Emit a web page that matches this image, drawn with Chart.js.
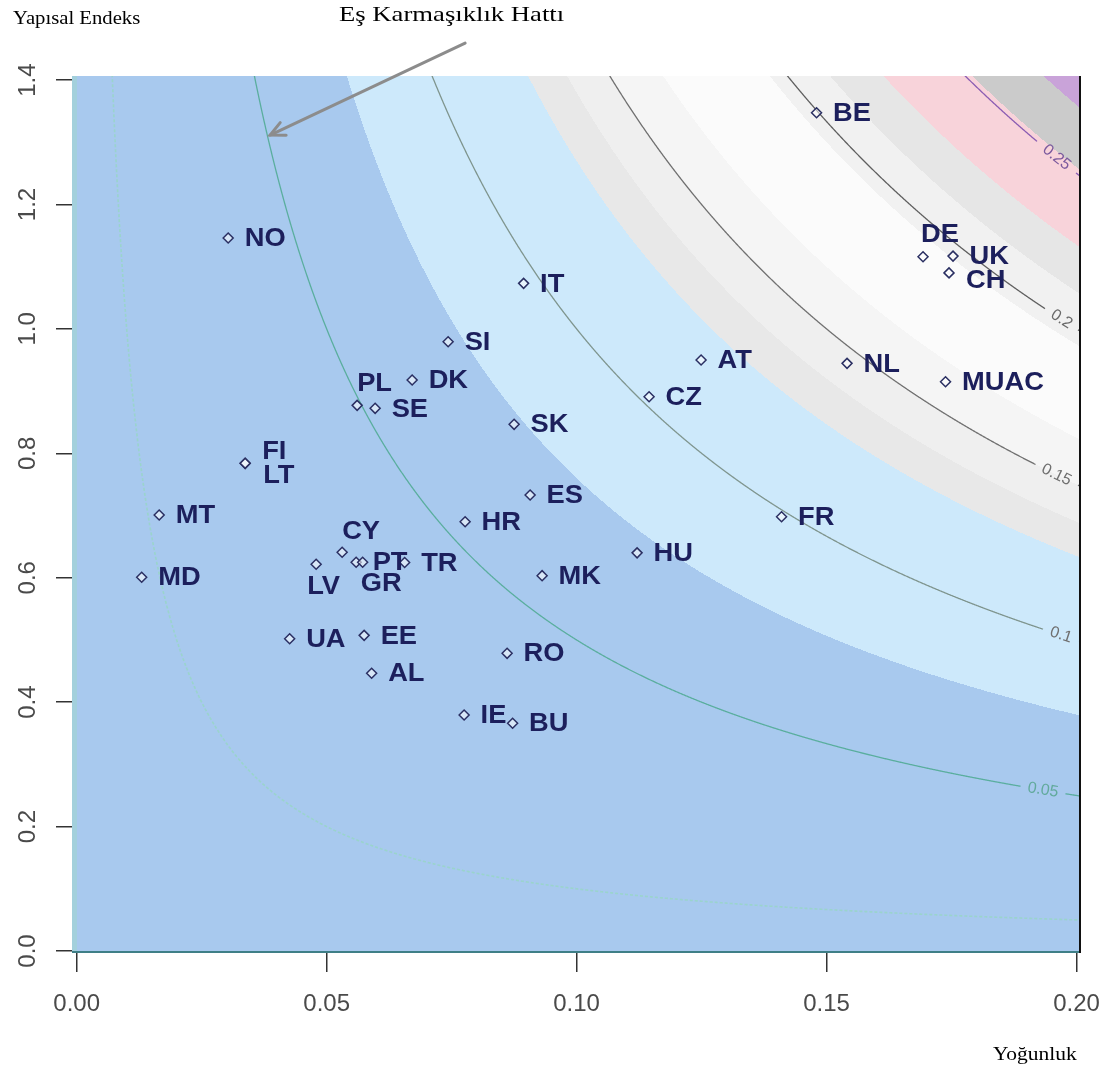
<!DOCTYPE html>
<html>
<head>
<meta charset="utf-8">
<script src="https://cdn.jsdelivr.net/npm/chart.js@4.4.0/dist/chart.umd.min.js"></script>
<style>
html,body{margin:0;padding:0;background:#fff;}
#wrap{width:1111px;height:1068px;position:relative;}
</style>
</head>
<body>
<div id="wrap"><canvas id="c" width="1111" height="1068"></canvas></div>
<script>
// ---------- DATA ----------
const countries  = ['BE','DE','UK','CH','NL','MUAC','AT','IT','SI','DK','PL','SE','SK','CZ','FI','LT','MT','MD','ES','HR','FR','HU','CY','LV','PT','GR','TR','MK','UA','EE','AL','RO','IE','BU','NO'];
const density    = [0.1480,0.1693,0.1753,0.1745,0.1541,0.1738,0.1249,0.0894,0.0743,0.0671,0.0561,0.0597,0.0875,0.1145,0.0337,0.0337,0.0165,0.0130,0.0907,0.0777,0.1410,0.1121,0.0531,0.0479,0.0559,0.0572,0.0656,0.0931,0.0426,0.0575,0.0590,0.0861,0.0775,0.0872,0.0303];
const structural = [1.3475,1.116,1.117,1.090,0.9446,0.9151,0.950,1.0732,0.9794,0.9178,0.8771,0.8723,0.8466,0.891,0.7839,0.7839,0.7008,0.6007,0.733,0.690,0.698,0.640,0.6409,0.6216,0.6248,0.6248,0.6244,0.6033,0.502,0.5074,0.4464,0.4785,0.3793,0.366,1.146];

const xTicks      = [0, 0.05, 0.10, 0.15, 0.20];
const xTickLabels = ['0.00','0.05','0.10','0.15','0.20'];
const yTicks      = [0, 0.2, 0.4, 0.6, 0.8, 1.0, 1.2, 1.4];
const yTickLabels = ['0.0','0.2','0.4','0.6','0.8','1.0','1.2','1.4'];

// iso-complexity levels (density x structural index)
const contourLevels = [0.01, 0.05, 0.10, 0.15, 0.20, 0.25];
const contourLabels = ['', '0.05', '0.1', '0.15', '0.2', '0.25'];
const contourLabelX = [null, 0.1933, 0.1969, 0.196, 0.197, 0.196];

// background shading bands (levels of density x structural index)
const bandLevels = [0.076, 0.127, 0.138, 0.150, 0.165, 0.195, 0.212, 0.227, 0.252, 0.272];

// annotation arrow (data coords)
const arrowTail = {x: 0.0777, y: 1.4595};
const arrowTip  = {x: 0.0387, y: 1.3116};

// ---------- STYLES ----------
const bandColors = ['#a8c9ee','#cde9fb','#e8e8e8','#efefef','#f5f5f5','#fbfbfb','#f1f1f1','#e6e6e6','#f8d3da','#cbcbcb','#c9a3d9'];
const stripColor = '#a3d0dc';
const contourColors = ['rgba(150,215,195,0.8)','#5aae9e','#7f958e','#707070','#5e5e5e','#8a5cb2'];
const contourLabelColors = ['#000','#62aa9c','#6f6f6f','#6f6f6f','#6a6a6a','#7c5a9e'];
const labelColor = '#1c1f5c';
const defaultOffset = [16.5, 1];
const labelOffsets = {
  DE:[-2,-22], CH:[17,8], PL:[0,-22], FI:[17,-12], LT:[18,12],
  CY:[0,-20], LV:[-9,23], GR:[-2,22]
};

const sans = '"Liberation Sans", Arial, sans-serif';
const serif = '"Liberation Serif", "Times New Roman", serif';

function hexToRgb(h){ h=h.replace('#',''); return [parseInt(h.substr(0,2),16),parseInt(h.substr(2,2),16),parseInt(h.substr(4,2),16)]; }

// ---------- PLUGINS ----------
const backgroundPlugin = {
  id:'bands',
  beforeDraw(chart){
    const {ctx, chartArea:a, scales:{x, y}} = chart;
    const w = Math.round(a.right - a.left), h = Math.round(a.bottom - a.top);
    const off = document.createElement('canvas'); off.width = w; off.height = h;
    const octx = off.getContext('2d');
    const img = octx.createImageData(w, h);
    const rgb = bandColors.map(hexToRgb), srgb = hexToRgb(stripColor);
    const xs = new Float64Array(w), ys = new Float64Array(h);
    for (let i=0;i<w;i++) xs[i] = x.getValueForPixel(a.left + i + 0.5);
    for (let j=0;j<h;j++) ys[j] = y.getValueForPixel(a.top + j + 0.5);
    for (let j=0;j<h;j++){
      for (let i=0;i<w;i++){
        let c;
        if (xs[i] < 0) c = srgb;
        else {
          const p = xs[i]*ys[j]; let k=0;
          while (k<bandLevels.length && p>=bandLevels[k]) k++;
          c = rgb[k];
        }
        const o = (j*w+i)*4;
        img.data[o]=c[0]; img.data[o+1]=c[1]; img.data[o+2]=c[2]; img.data[o+3]=255;
      }
    }
    octx.putImageData(img,0,0);
    ctx.drawImage(off, a.left, a.top);
  }
};

const contourPlugin = {
  id:'contours',
  beforeDatasetsDraw(chart){
    const {ctx, chartArea:a, scales:{x, y}} = chart;
    ctx.save();
    ctx.beginPath(); ctx.rect(a.left, a.top, a.right-a.left, a.bottom-a.top); ctx.clip();
    contourLevels.forEach((c, idx) => {
      const lab = contourLabels[idx];
      let lpx=null, lpy=null, ang=0, gap=0;
      ctx.font = '16px ' + sans;
      if (lab) {
        const lx = contourLabelX[idx];
        lpx = x.getPixelForValue(lx); lpy = y.getPixelForValue(c/lx);
        const p1x = x.getPixelForValue(lx-0.002), p1y = y.getPixelForValue(c/(lx-0.002));
        const p2x = x.getPixelForValue(lx+0.002), p2y = y.getPixelForValue(c/(lx+0.002));
        ang = Math.atan2(p2y-p1y, p2x-p1x);
        gap = ctx.measureText(lab).width/2*Math.cos(ang) + 7;
      }
      ctx.strokeStyle = contourColors[idx];
      ctx.lineWidth = idx===0 ? 1.6 : 1.3;
      if (idx===0) ctx.setLineDash([3,2]); else ctx.setLineDash([]);
      ctx.beginPath();
      let pen = false;
      for (let px=a.left; px<=a.right; px+=0.5){
        const xv = x.getValueForPixel(px);
        if (xv <= 0) { pen=false; continue; }
        const py = y.getPixelForValue(c/xv);
        if (py < a.top-40 || (lab && Math.abs(px-lpx) < gap)) { pen=false; continue; }
        if (!pen) { ctx.moveTo(px,py); pen=true; } else ctx.lineTo(px,py);
      }
      ctx.stroke();
      ctx.setLineDash([]);
      if (lab){
        ctx.save();
        ctx.translate(lpx,lpy); ctx.rotate(ang);
        ctx.fillStyle = contourLabelColors[idx];
        ctx.textAlign='center'; ctx.textBaseline='middle';
        ctx.fillText(lab,0,0);
        ctx.restore();
      }
    });
    ctx.restore();
  }
};

const labelPlugin = {
  id:'pointLabels',
  afterDatasetsDraw(chart){
    const {ctx} = chart;
    const meta = chart.getDatasetMeta(0);
    ctx.save();
    ctx.font = 'bold 26px ' + sans;
    ctx.fillStyle = labelColor;
    ctx.textAlign='left'; ctx.textBaseline='middle';
    meta.data.forEach((pt,i)=>{
      const off = labelOffsets[countries[i]] || defaultOffset;
      ctx.save();
      ctx.translate(pt.x+off[0], pt.y+off[1]); ctx.scale(1.05,1);
      ctx.fillText(countries[i], 0, 0);
      ctx.restore();
    });
    ctx.restore();
  }
};

function stretchedText(ctx, txt, x, yb, font, sx){
  ctx.save(); ctx.font = font; ctx.textAlign='left'; ctx.textBaseline='alphabetic';
  ctx.translate(x, yb); ctx.scale(sx,1); ctx.fillText(txt,0,0); ctx.restore();
}

const annotationPlugin = {
  id:'annot',
  afterDraw(chart){
    const {ctx, chartArea:a, scales:{x, y}} = chart;
    ctx.save();
    // plot frame
    ctx.strokeStyle = '#3f7f87'; ctx.lineWidth = 2;
    ctx.beginPath(); ctx.moveTo(a.left, a.bottom-1); ctx.lineTo(a.right, a.bottom-1); ctx.stroke();
    ctx.strokeStyle = '#111'; ctx.lineWidth = 2;
    ctx.beginPath(); ctx.moveTo(a.right, a.top); ctx.lineTo(a.right, a.bottom); ctx.stroke();
    // arrow
    const tx = x.getPixelForValue(arrowTail.x), ty = y.getPixelForValue(arrowTail.y);
    const hx = x.getPixelForValue(arrowTip.x),  hy = y.getPixelForValue(arrowTip.y);
    ctx.strokeStyle = '#8c8c8c'; ctx.lineWidth = 3; ctx.lineCap='round';
    ctx.beginPath(); ctx.moveTo(tx,ty); ctx.lineTo(hx,hy); ctx.stroke();
    const ang = Math.atan2(ty-hy, tx-hx), L = 16, sp = 0.45;
    ctx.beginPath();
    ctx.moveTo(hx + L*Math.cos(ang+sp), hy + L*Math.sin(ang+sp));
    ctx.lineTo(hx, hy);
    ctx.lineTo(hx + L*Math.cos(ang-sp), hy + L*Math.sin(ang-sp));
    ctx.stroke();
    // titles
    ctx.fillStyle = '#000';
    stretchedText(ctx, 'Yapısal Endeks', 13, 24, '18px ' + serif, 1.15);
    stretchedText(ctx, 'Eş Karmaşıklık Hattı', 339, 21, '21px ' + serif, 1.27);
    stretchedText(ctx, 'Yoğunluk', 993, 1060, '19px ' + serif, 1.13);
    ctx.restore();
  }
};

// ---------- CHART ----------
new Chart(document.getElementById('c'), {
  type:'scatter',
  data:{
    datasets:[{
      data: countries.map((c,i)=>({x:density[i], y:structural[i]})),
      pointStyle:'rectRot',
      pointRadius:5,
      pointBorderWidth:1.5,
      pointBorderColor:'#2a2f62',
      pointBackgroundColor:'rgba(255,255,255,0.55)'
    }]
  },
  options:{
    responsive:false,
    devicePixelRatio:1,
    animation:false,
    layout:{padding:{top:76, right:31, bottom:0, left:0}},
    plugins:{legend:{display:false}, tooltip:{enabled:false}, title:{display:false}},
    scales:{
      x:{
        type:'linear', min:-0.00094, max:0.2007,
        afterBuildTicks:s=>{ s.ticks = xTicks.map(v=>({value:v})); },
        afterFit:s=>{ s.height = 115; s.paddingLeft = 0; s.paddingRight = 0; },
        ticks:{ callback:(v,i)=>xTickLabels[i], autoSkip:false, maxRotation:0, minRotation:0,
                padding:18, color:'#4a4a4a', font:{family:sans, size:24} },
        grid:{ drawOnChartArea:false, drawTicks:true, tickLength:19, color:'#333', lineWidth:1.5 },
        border:{ display:false }
      },
      y:{
        type:'linear', min:-0.0032, max:1.4065,
        afterBuildTicks:s=>{ s.ticks = yTicks.map(v=>({value:v})); },
        afterFit:s=>{ s.width = 72; s.paddingTop = 0; s.paddingBottom = 0; },
        ticks:{ callback:(v,i)=>yTickLabels[i], autoSkip:false, minRotation:90, maxRotation:90,
                crossAlign:'center', padding:11, color:'#4a4a4a', font:{family:sans, size:24} },
        grid:{ drawOnChartArea:false, drawTicks:true, tickLength:16, color:'#333', lineWidth:1.5 },
        border:{ display:false }
      }
    }
  },
  plugins:[backgroundPlugin, contourPlugin, labelPlugin, annotationPlugin]
});
</script>
</body>
</html>
